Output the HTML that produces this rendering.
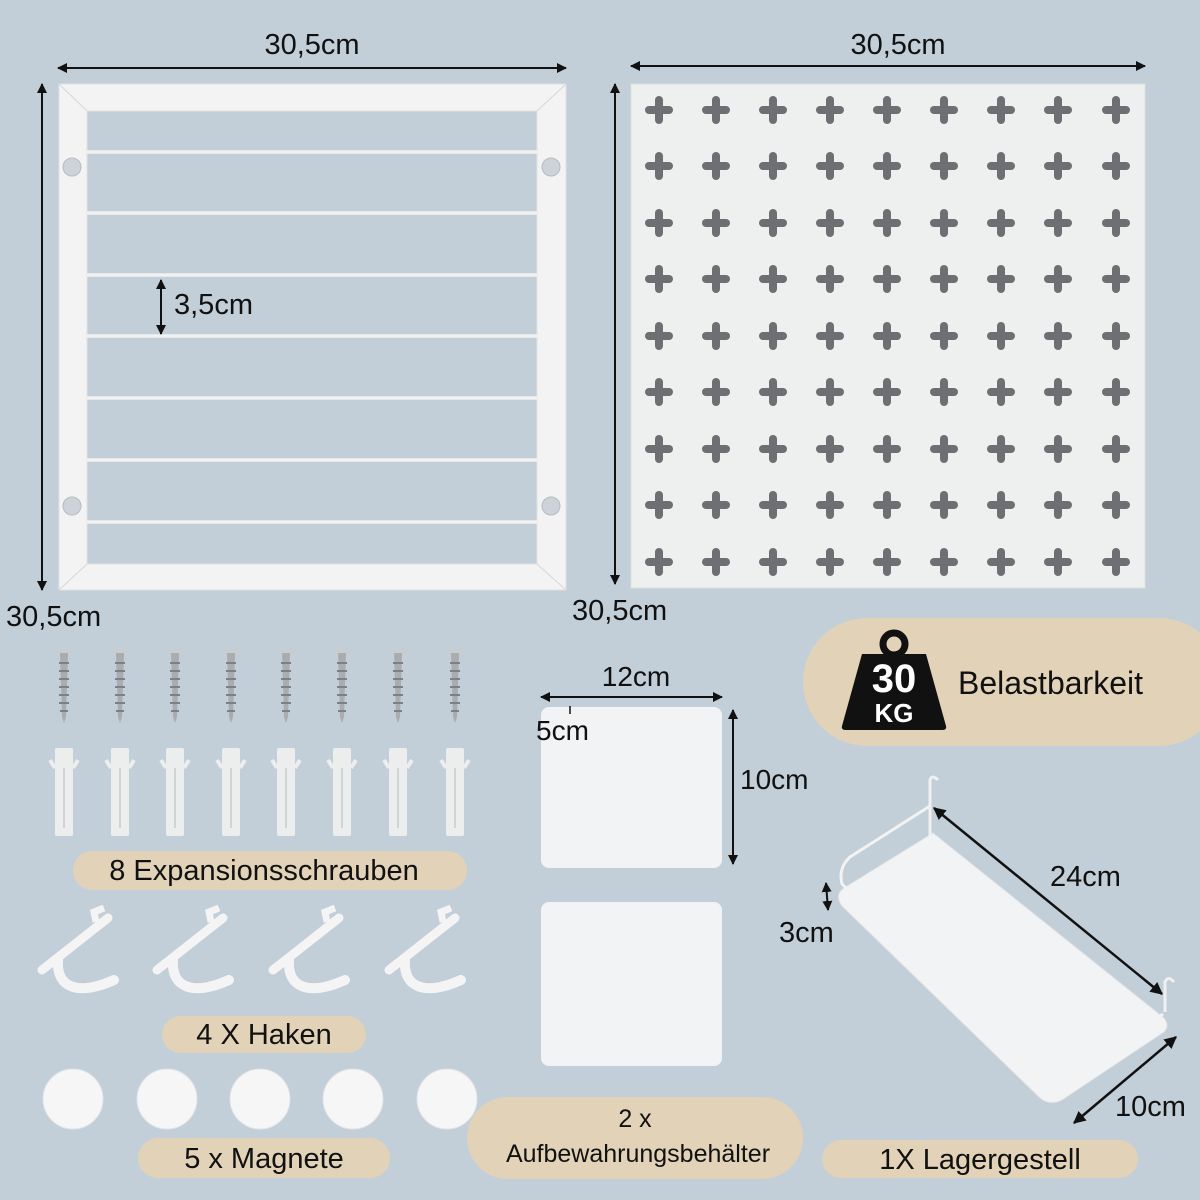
<!DOCTYPE html>
<html><head><meta charset="utf-8"><style>
html,body{margin:0;padding:0;background:#c2ced8;}
svg{display:block}
text{font-family:"Liberation Sans",sans-serif;fill:#111}
</style></head><body>
<svg width="1200" height="1200" viewBox="0 0 1200 1200" xmlns="http://www.w3.org/2000/svg">
<defs>
<marker id="ah" viewBox="0 0 10 10" refX="9" refY="5" markerWidth="5" markerHeight="5" orient="auto-start-reverse"><path d="M0,0 L10,5 L0,10 z" fill="#111"/></marker>
<g id="cr"><rect x="-14" y="-4" width="28" height="8" rx="4" fill="#6d6f72"/><rect x="-4" y="-14" width="8" height="28" rx="4" fill="#6d6f72"/></g>
<g id="row"><use href="#cr" x="659"/><use href="#cr" x="716"/><use href="#cr" x="773"/><use href="#cr" x="830"/><use href="#cr" x="887"/><use href="#cr" x="944"/><use href="#cr" x="1001"/><use href="#cr" x="1058"/><use href="#cr" x="1116"/></g>
<g id="screw"><rect x="-8" y="0" width="16" height="4" rx="2" fill="#c9cdd0"/><path d="M-4,4 L4,4 L2,68 L0,74 L-2,68 Z" fill="#a9adb0"/><path d="M-5,14 h10 M-5,22 h10 M-5,30 h10 M-5,38 h10 M-5,46 h10 M-5,54 h10 M-4,62 h8" stroke="#7d8185" stroke-width="2"/></g>
<g id="plug"><rect x="-9" y="0" width="18" height="88" rx="2" fill="#eceeee"/><path d="M-9,20 L-14,12 M9,20 L14,12" stroke="#eceeee" stroke-width="4"/><rect x="-1" y="20" width="2" height="60" fill="#d0d4d6"/></g>
<g id="hook"><path d="M-36,40 L30,-12" stroke="#f4f4f4" stroke-width="9" stroke-linecap="round"/><path d="M18,-8 L16,-18 L26,-22" stroke="#f4f4f4" stroke-width="7" fill="none"/><path d="M-20,30 C-22,58 0,66 36,50" stroke="#f4f4f4" stroke-width="10" fill="none" stroke-linecap="round"/></g>
</defs>
<rect width="1200" height="1200" fill="#c2ced8"/>

<!-- Left frame -->
<path d="M59,84 H566 V590 H59 Z M87,111 V564 H537 V111 Z" fill="#f3f3f3" fill-rule="evenodd" stroke="#e0e2e3"/>
<path d="M59,84 L87,111 M566,84 L537,111 M59,590 L87,564 M566,590 L537,564" stroke="#d5d7d8"/>
<g stroke="#f2f2f2" stroke-width="3.5">
<line x1="87" y1="152" x2="537" y2="152"/><line x1="87" y1="213" x2="537" y2="213"/><line x1="87" y1="275" x2="537" y2="275"/><line x1="87" y1="336" x2="537" y2="336"/><line x1="87" y1="398" x2="537" y2="398"/><line x1="87" y1="460" x2="537" y2="460"/><line x1="87" y1="522" x2="537" y2="522"/>
</g>
<g fill="#cdd3d8" stroke="#b5bbc0"><circle cx="72" cy="167" r="9"/><circle cx="72" cy="506" r="9"/><circle cx="551" cy="167" r="9"/><circle cx="551" cy="506" r="9"/></g>
<line x1="58" y1="68" x2="566" y2="68" stroke="#111" stroke-width="2" marker-start="url(#ah)" marker-end="url(#ah)"/>
<text x="312" y="54" font-size="29" text-anchor="middle">30,5cm</text>
<line x1="42" y1="84" x2="42" y2="590" stroke="#111" stroke-width="2" marker-start="url(#ah)" marker-end="url(#ah)"/>
<text x="6" y="626" font-size="29">30,5cm</text>
<line x1="161" y1="280" x2="161" y2="334" stroke="#111" stroke-width="2" marker-start="url(#ah)" marker-end="url(#ah)"/>
<text x="174" y="314" font-size="29">3,5cm</text>

<!-- Right pegboard -->
<rect x="631" y="84" width="514" height="504" fill="#eeefef" stroke="#dfe1e2"/>
<use href="#row" y="110"/><use href="#row" y="166"/><use href="#row" y="223"/><use href="#row" y="279"/><use href="#row" y="336"/><use href="#row" y="392"/><use href="#row" y="449"/><use href="#row" y="505"/><use href="#row" y="562"/>
<line x1="631" y1="66" x2="1145" y2="66" stroke="#111" stroke-width="2" marker-start="url(#ah)" marker-end="url(#ah)"/>
<text x="898" y="54" font-size="29" text-anchor="middle">30,5cm</text>
<line x1="615" y1="84" x2="615" y2="584" stroke="#111" stroke-width="2" marker-start="url(#ah)" marker-end="url(#ah)"/>
<text x="572" y="620" font-size="29">30,5cm</text>

<!-- Screws & plugs -->
<use href="#screw" x="64" y="649"/><use href="#screw" x="120" y="649"/><use href="#screw" x="175" y="649"/><use href="#screw" x="231" y="649"/><use href="#screw" x="286" y="649"/><use href="#screw" x="342" y="649"/><use href="#screw" x="398" y="649"/><use href="#screw" x="455" y="649"/>
<use href="#plug" x="64" y="748"/><use href="#plug" x="120" y="748"/><use href="#plug" x="175" y="748"/><use href="#plug" x="231" y="748"/><use href="#plug" x="286" y="748"/><use href="#plug" x="342" y="748"/><use href="#plug" x="398" y="748"/><use href="#plug" x="455" y="748"/>
<rect x="73" y="851" width="394" height="39" rx="19.5" fill="#e2d3b8"/>
<text x="264" y="880" font-size="29" text-anchor="middle">8 Expansionsschrauben</text>

<!-- Hooks -->
<use href="#hook" x="78" y="930"/><use href="#hook" x="193" y="930"/><use href="#hook" x="309" y="930"/><use href="#hook" x="425" y="930"/>
<rect x="162" y="1016" width="204" height="37" rx="18.5" fill="#e2d3b8"/>
<text x="264" y="1044" font-size="29" text-anchor="middle">4 X Haken</text>

<!-- Magnets -->
<g fill="#f6f6f6" stroke="#e2e4e6"><circle cx="73" cy="1099" r="30"/><circle cx="167" cy="1099" r="30"/><circle cx="260" cy="1099" r="30"/><circle cx="353" cy="1099" r="30"/><circle cx="447" cy="1099" r="30"/></g>
<rect x="138" y="1138" width="252" height="40" rx="20" fill="#e2d3b8"/>
<text x="264" y="1168" font-size="29" text-anchor="middle">5 x Magnete</text>

<!-- Containers -->
<rect x="541" y="707" width="181" height="161" rx="8" fill="#f2f3f4"/>
<rect x="541" y="902" width="181" height="164" rx="8" fill="#f2f3f4"/>
<line x1="541" y1="697" x2="722" y2="697" stroke="#111" stroke-width="2" marker-start="url(#ah)" marker-end="url(#ah)"/>
<text x="636" y="686" font-size="28" text-anchor="middle">12cm</text>
<line x1="570" y1="706" x2="570" y2="714" stroke="#111" stroke-width="1.5"/>
<text x="536" y="740" font-size="28">5cm</text>
<line x1="733" y1="710" x2="733" y2="864" stroke="#111" stroke-width="2" marker-start="url(#ah)" marker-end="url(#ah)"/>
<text x="740" y="789" font-size="28">10cm</text>
<rect x="467" y="1097" width="336" height="82" rx="41" fill="#e2d3b8"/>
<text x="635" y="1127" font-size="25" text-anchor="middle">2 x</text>
<text x="638" y="1162" font-size="25" text-anchor="middle">Aufbewahrungsbehälter</text>

<!-- Weight badge -->
<rect x="803" y="618" width="420" height="128" rx="64" fill="#e2d3b8"/>
<circle cx="894" cy="644" r="11" fill="none" stroke="#111" stroke-width="7"/>
<path d="M862,654 H926 L946,726 Q947,730 942,730 H846 Q841,730 842,726 Z" fill="#111"/>
<text x="894" y="692" font-size="40" font-weight="bold" text-anchor="middle" style="fill:#fff">30</text>
<text x="894" y="722" font-size="26" font-weight="bold" text-anchor="middle" style="fill:#fff">KG</text>
<text x="958" y="694" font-size="32">Belastbarkeit</text>

<!-- Shelf -->
<path d="M933,833 L1164,1018 Q1170,1026 1164,1032 L1062,1100 Q1050,1106 1040,1098 L842,906 Q834,895 844,888 Z" fill="#f2f3f4" stroke="#e0e2e4"/>
<path d="M930,806 L850,857 Q838,868 842,884 L1038,1080 Q1052,1094 1068,1084 L1163,1014" fill="none" stroke="#f3f3f3" stroke-width="3"/>
<path d="M930,836 V780 Q932,774 938,780 M1165,1012 V982 Q1168,975 1174,982" fill="none" stroke="#f0f0f0" stroke-width="3"/>
<line x1="934" y1="808" x2="1162" y2="994" stroke="#111" stroke-width="2.5" marker-start="url(#ah)" marker-end="url(#ah)"/>
<text x="1050" y="886" font-size="29">24cm</text>
<line x1="826" y1="883" x2="828" y2="910" stroke="#111" stroke-width="2" marker-start="url(#ah)" marker-end="url(#ah)"/>
<text x="779" y="942" font-size="29">3cm</text>
<line x1="1074" y1="1123" x2="1176" y2="1037" stroke="#111" stroke-width="2.5" marker-start="url(#ah)" marker-end="url(#ah)"/>
<text x="1115" y="1116" font-size="29">10cm</text>
<rect x="822" y="1140" width="316" height="38" rx="19" fill="#e2d3b8"/>
<text x="980" y="1169" font-size="29" text-anchor="middle">1X Lagergestell</text>
</svg>
</body></html>
